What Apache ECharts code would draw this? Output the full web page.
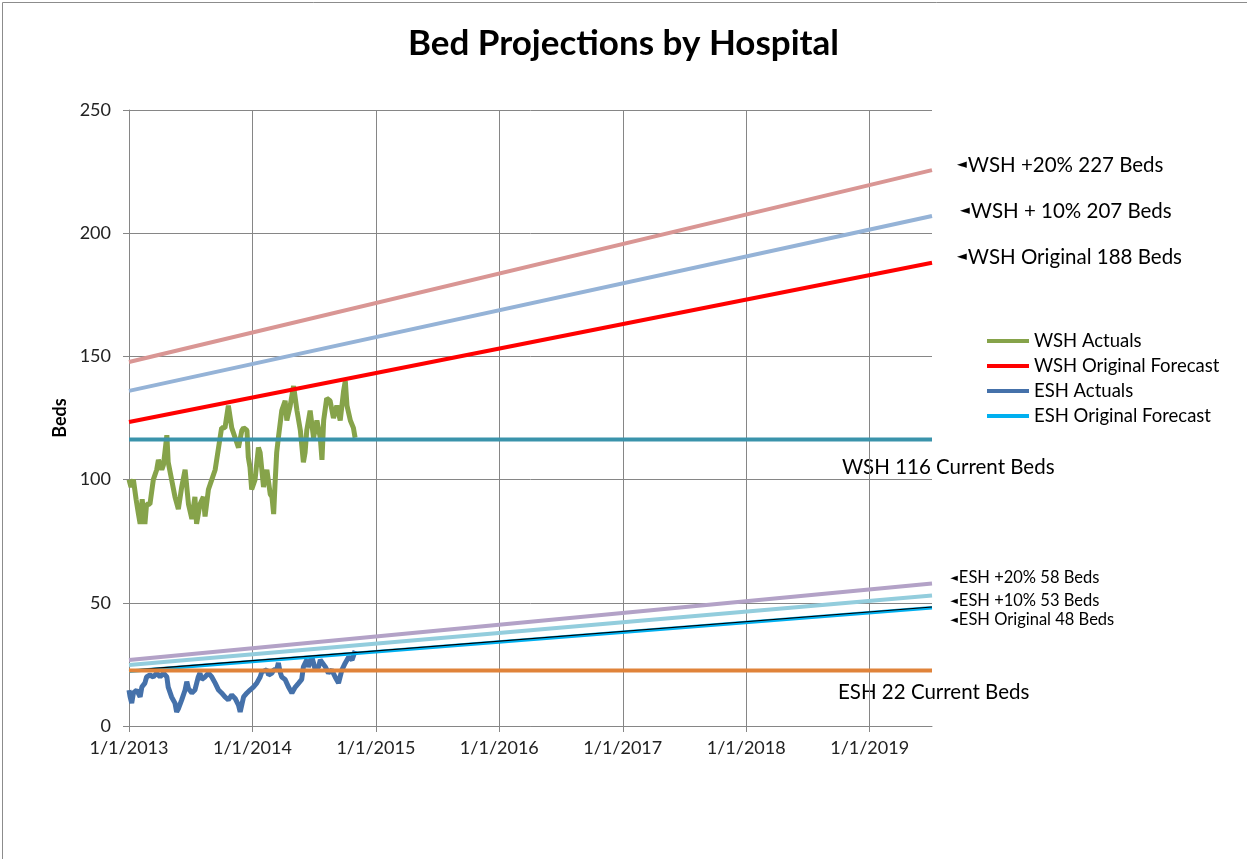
<!DOCTYPE html>
<html>
<head>
<title>Bed Projections by Hospital</title>
<meta charset="utf-8">
<script type="text/javascript" src="https://cdn.jsdelivr.net/npm/echarts@6/dist/echarts.min.js"></script>
</head>
<body style="margin:0">
	<div id="main" style="width: 1247px; height: 859px;"></div>
</body>
<script>
	// days since 1/1/2013 and beds
	var wshDays = [0, 6, 13, 21, 28, 33, 39, 47, 52, 62, 72, 82, 87, 97, 102, 112, 116, 126, 136, 146,
		156, 166, 176, 186, 195, 200, 210, 220, 225, 235, 245, 255, 265, 274, 284, 294, 304, 314, 324, 334,
		339, 349, 353, 358, 363, 373, 383, 388, 398, 408, 418, 423, 428, 432, 437, 442, 452, 462, 467, 477,
		487, 492, 497, 507, 516, 521, 526, 536, 546, 556, 566, 571, 576, 585, 595, 605, 615, 625, 635, 640,
		645, 655, 664, 669];
	var wshBeds = [100, 97, 100, 92, 86, 82, 92, 82, 90, 90, 100, 104, 108, 104, 106, 118, 107, 100, 93, 88,
		97, 104, 90, 84, 93, 82, 90, 93, 85, 96, 100, 104, 113, 121, 121, 130, 121, 117, 113, 120,
		121, 120, 109, 105, 96, 100, 113, 111, 97, 104, 94, 93, 86, 98, 111, 117, 128, 132, 124, 130,
		138, 138, 128, 120, 107, 111, 120, 128, 117, 124, 117, 108, 124, 133, 132, 125, 130, 124, 136, 140,
		130, 124, 121, 117];

	var eshDays = [0, 3, 8, 13, 23, 33, 38, 47, 52, 62, 72, 82, 92, 102, 112, 116, 126, 136, 141, 146,
		156, 166, 171, 176, 186, 195, 205, 210, 215, 225, 235, 245, 255, 265, 274, 284, 294, 304, 314, 324,
		329, 334, 339, 349, 358, 368, 378, 388, 393, 398, 408, 413, 423, 428, 437, 442, 447, 452, 462, 472,
		482, 492, 502, 511, 516, 526, 531, 541, 546, 551, 561, 566, 571, 581, 590, 600, 610, 620, 630, 640,
		650, 660, 669];
	var eshBeds = [14.6, 12, 9.3, 13.4, 14.6, 11.8, 15.8, 17.4, 19.9, 20.7, 19.9, 21.5, 19.9, 21.5, 19.9, 15.8, 11.8, 9.3, 5.7, 7,
		10.6, 14.6, 18, 15.2, 13.4, 14.6, 19.9, 21.5, 18.9, 19.9, 21.5, 19.9, 17.4, 14.6, 13.4, 11.8, 10.6, 12.6, 11.2, 8.5,
		5.7, 6.4, 11.8, 13.4, 14.6, 15.8, 17.4, 19.9, 21.9, 21.5, 22.8, 20.7, 21.5, 22.8, 22.8, 25.6, 21.9, 19.9, 18.9, 15.8,
		13.4, 15.8, 17.4, 18.9, 24, 26.8, 24, 28, 25.6, 22.8, 24, 26.8, 27.5, 24, 21.5, 22.8, 19.9, 17.4, 22.8, 25.6,
		28, 26.8, 30.5];

	// straight projections: value at start and at end of the axis
	var forecastDates = ['2013-01-01', '2019-07-05'];
	var wsh20 = [147.7, 225.6];
	var wsh10 = [136, 207];
	var wshOrig = [123.4, 188];
	var wshCurrent = [116.3, 116.3];
	var esh20 = [26.8, 57.8];
	var esh10 = [24.8, 53];
	var eshOrig = [22.2, 48];
	var eshTrend = [22.6, 48.3];
	var eshCurrent = [22.5, 22.5];

	var legendNames = ['WSH Actuals', 'WSH Original Forecast', 'ESH Actuals', 'ESH Original Forecast'];
	var yTicks = [0, 50, 100, 150, 200, 250];

	var DAY = 86400000;
	var t0 = Date.UTC(2013, 0, 1);
	var tEnd = Date.parse(forecastDates[1]);
	var font = 'Lato, "Open Sans", sans-serif';

	function actual(days, beds) {
		return days.map(function (d, i) { return [t0 + d * DAY, beds[i]]; });
	}
	function straight(vals) {
		return forecastDates.map(function (d, i) { return [Date.parse(d), vals[i]]; });
	}
	function line(name, data, color, width) {
		return {
			type: 'line', name: name, data: data, showSymbol: false, symbol: 'none',
			color: color, lineStyle: { color: color, width: width }, silent: true
		};
	}

	var chartDom = document.getElementById('main');
	var myChart = echarts.init(chartDom);

	// annotation texts at the right of the plot (x = left edge, y = middle)
	var labelTexts = [
		{ t: 'WSH +20% 227 Beds', arrow: true, x: 957, y: 165, s: 20.5 },
		{ t: 'WSH + 10% 207 Beds', arrow: true, x: 960, y: 211, s: 20.5 },
		{ t: 'WSH Original 188 Beds', arrow: true, x: 957, y: 257, s: 20.5 },
		{ t: 'WSH 116 Current Beds', arrow: false, x: 842, y: 467, s: 20.5 },
		{ t: 'ESH +20% 58 Beds', arrow: true, x: 950, y: 578, s: 16.5 },
		{ t: 'ESH +10% 53 Beds', arrow: true, x: 950, y: 601, s: 16.5 },
		{ t: 'ESH Original 48 Beds', arrow: true, x: 950, y: 620, s: 16.5 },
		{ t: 'ESH 22 Current Beds', arrow: false, x: 838, y: 692, s: 20.5 }
	];
	var graphics = labelTexts.map(function (l) {
		return {
			type: 'text', x: l.x, y: l.y,
			style: {
				text: (l.arrow ? '{a|◄}' : '') + l.t,
				font: l.s + 'px ' + font, fill: '#000', verticalAlign: 'middle',
				rich: { a: { fontSize: l.s * 0.62, fontFamily: 'DejaVu Sans', fill: '#000', padding: [0, 1, 0, 0] } }
			}
		};
	});
	graphics.push({
		type: 'rect', left: 0, top: 0, silent: true,
		shape: { x: 0.5, y: 0.5, width: 1245, height: 857 },
		style: { fill: 'none', stroke: '#8c8c8c', lineWidth: 1 }
	});

	var option = {
		animation: false,
		backgroundColor: '#fff',
		title: {
			text: 'Bed Projections by Hospital',
			left: 'center', top: 21,
			textStyle: { fontFamily: font, fontWeight: 'bold', fontSize: 35, color: '#000' }
		},
		grid: { left: 129, right: 315, top: 110, bottom: 133 },
		legend: {
			data: legendNames,
			orient: 'vertical',
			left: 987, top: 331, padding: 0,
			icon: 'rect', itemWidth: 42, itemHeight: 4, itemGap: 5,
			textStyle: { fontFamily: font, fontSize: 18.5, lineHeight: 20, color: '#000' }
		},
		xAxis: {
			type: 'value',
			min: t0, max: tEnd, interval: 365.25 * DAY,
			axisLine: { lineStyle: { color: '#868686' } },
			axisTick: { show: true, length: 6, lineStyle: { color: '#868686' } },
			splitLine: { show: true, showMaxLine: false, lineStyle: { color: '#868686', width: 1 } },
			axisLabel: {
				showMaxLabel: false, margin: 13,
				fontFamily: font, fontSize: 18, color: '#222',
				formatter: function (v) {
					var d = new Date(v);
					return (d.getUTCMonth() + 1) + '/' + d.getUTCDate() + '/' + d.getUTCFullYear();
				}
			}
		},
		yAxis: {
			type: 'value',
			min: yTicks[0], max: yTicks[yTicks.length - 1], interval: 50,
			name: 'Beds', nameLocation: 'middle', nameGap: 59, nameRotate: 90,
			nameTextStyle: { fontFamily: font, fontWeight: 'bold', fontSize: 18, color: '#000' },
			axisLine: { show: true, lineStyle: { color: '#868686' } },
			axisTick: { show: true, length: 6, lineStyle: { color: '#868686' } },
			splitLine: { show: true, lineStyle: { color: '#868686', width: 1 } },
			axisLabel: { margin: 18, fontFamily: font, fontSize: 18, color: '#222' }
		},
		graphic: graphics,
		series: [
			line('WSH Actuals', actual(wshDays, wshBeds), '#86a34a', 5),
			line('ESH Actuals', actual(eshDays, eshBeds), '#4571aa', 5),
			line('WSH +20%', straight(wsh20), '#d99694', 4),
			line('WSH +10%', straight(wsh10), '#95b3d7', 4),
			line('WSH Original Forecast', straight(wshOrig), '#ff0000', 4),
			line('WSH Current', straight(wshCurrent), '#3a93ab', 4),
			line('ESH +20%', straight(esh20), '#b3a2c7', 4),
			line('ESH +10%', straight(esh10), '#93cddd', 4),
			line('ESH Original Forecast', straight(eshOrig), '#00b0f0', 3.5),
			line('ESH Trend', straight(eshTrend), '#000000', 1.2),
			line('ESH Current', straight(eshCurrent), '#e0833a', 4)
		]
	};
	myChart.setOption(option);
</script>
</html>
